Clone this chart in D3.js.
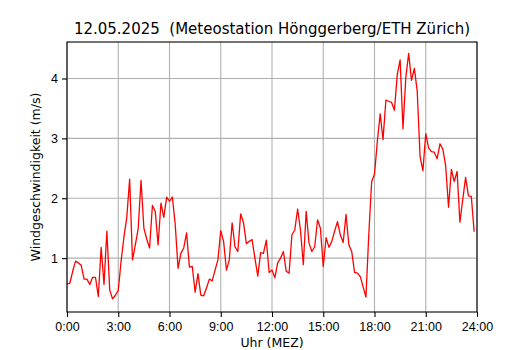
<!DOCTYPE html>
<meta charset="utf-8">
<style>
  body { margin: 0; background: #fff; }
  svg { font-family: "DejaVu Sans", sans-serif; }
  .tick text { font-size: 12.5px; fill: #000; }
</style>
<body>
<div id="chart"></div>
<script src="https://d3js.org/d3.v7.min.js"></script>
<script>

// Wind speed, 10-minute steps from 0:00 to 23:50 (m/s)
var speed = [
  0.57, 0.58, 0.78, 0.95, 0.92, 0.88, 0.65, 0.65, 0.56, 0.68,
  0.68, 0.36, 1.18, 0.56, 1.45, 0.47, 0.32, 0.38, 0.46, 0.95,
  1.35, 1.68, 2.32, 0.97, 1.22, 1.49, 2.30, 1.50, 1.32, 1.17,
  1.88, 1.78, 1.22, 1.92, 1.68, 2.02, 1.95, 2.02, 1.57, 0.83,
  1.08, 1.17, 1.42, 0.85, 0.86, 0.43, 0.74, 0.38, 0.37, 0.50,
  0.65, 0.62, 0.80, 0.97, 1.46, 1.28, 0.80, 0.97, 1.59, 1.19,
  1.11, 1.74, 1.59, 1.24, 1.28, 1.31, 1.00, 0.70, 1.09, 1.08,
  1.30, 0.76, 0.80, 0.67, 0.92, 1.00, 1.11, 0.78, 0.75, 1.39,
  1.47, 1.82, 1.47, 0.89, 1.78, 1.25, 1.11, 1.19, 1.64, 1.50,
  0.86, 1.34, 1.18, 1.28, 1.45, 1.61, 1.39, 1.26, 1.73, 1.22,
  1.11, 0.76, 0.75, 0.69, 0.52, 0.35, 1.40, 2.28, 2.40, 2.95,
  3.41, 2.98, 3.64, 3.62, 3.60, 3.47, 4.07, 4.31, 3.16, 4.02,
  4.42, 3.97, 4.17, 3.79, 2.70, 2.46, 3.08, 2.84, 2.78, 2.77,
  2.66, 2.91, 2.82, 2.54, 1.85, 2.48, 2.28, 2.45, 1.60, 1.98,
  2.35, 2.04, 2.03, 1.44
];
var stepMinutes = 10;

var xTicks = [0, 3, 6, 9, 12, 15, 18, 21, 24];
var xTickLabels = ["0:00", "3:00", "6:00", "9:00", "12:00", "15:00", "18:00", "21:00", "24:00"];
var yTicks = [1, 2, 3, 4];

var title = "12.05.2025  (Meteostation Hönggerberg/ETH Zürich)";

var W = 530, H = 350;
var margin = {top: 42, right: 53, bottom: 38, left: 67};
var width = W - margin.left - margin.right,
    height = H - margin.top - margin.bottom;

var svg = d3.select("#chart").append("svg")
    .attr("width", W)
    .attr("height", H);

var g = svg.append("g")
    .attr("transform", "translate(" + margin.left + "," + margin.top + ")");

var x = d3.scaleLinear().domain([0, 24]).range([0, width]);
var y = d3.scaleLinear().domain([0.1, 4.61]).range([height, 0]);

// grid
g.append("g")
    .selectAll("line.vg")
    .data(xTicks)
    .enter().append("line")
    .attr("x1", function(d) { return x(d); })
    .attr("x2", function(d) { return x(d); })
    .attr("y1", 0).attr("y2", height)
    .style("stroke", "#b0b0b0").style("stroke-width", 1.1);

g.append("g")
    .selectAll("line.hg")
    .data(yTicks)
    .enter().append("line")
    .attr("x1", 0).attr("x2", width)
    .attr("y1", function(d) { return y(d); })
    .attr("y2", function(d) { return y(d); })
    .style("stroke", "#b0b0b0").style("stroke-width", 1.1);

// data line
var line = d3.line()
    .x(function(d, i) { return x(i * stepMinutes / 60); })
    .y(function(d) { return y(d); });

g.append("path")
    .datum(speed)
    .attr("d", line)
    .style("fill", "none")
    .style("stroke", "#ff0000")
    .style("stroke-width", 1.3)
    .style("stroke-linejoin", "round");

// axes
var xAxis = g.append("g")
    .attr("transform", "translate(0," + height + ")")
    .call(d3.axisBottom(x).tickValues(xTicks)
      .tickFormat(function(d, i) { return xTickLabels[i]; })
      .tickSize(5).tickPadding(5));

var yAxis = g.append("g")
    .call(d3.axisLeft(y).tickValues(yTicks)
      .tickFormat(d3.format("d"))
      .tickSize(5).tickPadding(4));

[xAxis, yAxis].forEach(function(a) {
  a.select(".domain").remove();
  a.selectAll(".tick line").style("stroke", "#000").style("stroke-width", 1.1);
});

// frame
g.append("rect")
    .attr("width", width).attr("height", height)
    .style("fill", "none").style("stroke", "#000").style("stroke-width", 1.1);

// labels
svg.append("text")
    .attr("x", margin.left + width / 2)
    .attr("y", 34)
    .attr("text-anchor", "middle")
    .style("font-size", "15px")
    .style("white-space", "pre")
    .text(title);

svg.append("text")
    .attr("x", margin.left + width / 2)
    .attr("y", 347)
    .attr("text-anchor", "middle")
    .style("font-size", "12.5px")
    .text("Uhr (MEZ)");

svg.append("text")
    .attr("transform", "translate(40," + (margin.top + height / 2) + ") rotate(-90)")
    .attr("text-anchor", "middle")
    .style("font-size", "12.5px")
    .text("Windgeschwindigkeit (m/s)");

</script>
</body>
